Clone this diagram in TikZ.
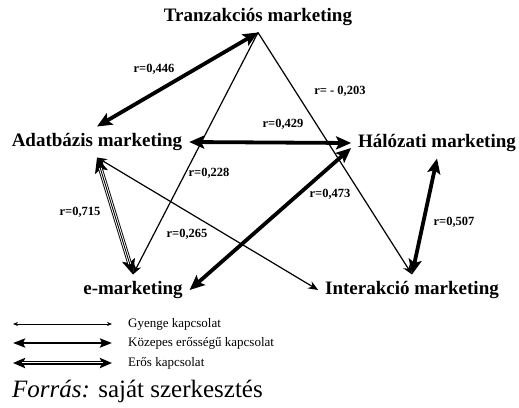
\documentclass[tikz,border=0pt]{standalone}
\usepackage{fontspec}
\setmainfont{Liberation Serif}
\usetikzlibrary{arrows.meta}
\begin{document}
\begin{tikzpicture}[x=1pt,y=-1pt,
    mkt/.style={font=\fontsize{19}{19}\selectfont\bfseries, inner sep=0pt, outer sep=7pt, text height=13pt, text depth=4pt},
    corr/.style={font=\fontsize{12.5}{12.5}\selectfont\bfseries, inner sep=0pt},
    legtext/.style={font=\fontsize{13}{13}\selectfont, inner sep=0pt, anchor=west},
    weak/.style={line width=1.2pt, -{Stealth[length=10pt,width=8pt]}},
    weakboth/.style={line width=1.2pt, {Stealth[length=10pt,width=8pt]}-{Stealth[length=10pt,width=8pt]}},
    medium/.style={line width=3.8pt, {Stealth[length=15pt,width=13pt,inset=3pt]}-{Stealth[length=15pt,width=13pt,inset=3pt]}},
    strong/.style={line width=4.6pt, {Stealth[length=15pt,width=13pt,inset=3pt]}-{Stealth[length=15pt,width=13pt,inset=3pt]},
        postaction={draw, -, white, line width=2.8pt, shorten <=11pt, shorten >=11pt},
        postaction={draw, -, black, line width=0.9pt, shorten <=11pt, shorten >=11pt}}]
            \useasboundingbox (0,0) rectangle (519,407);

            % marketing types
            \node[mkt] (tranz) at (258,17) {Tranzakciós marketing};
            \node[mkt] (adat) at (97,142) {Adatbázis marketing};
            \node[mkt] (hal) at (437,143) {Hálózati marketing};
            \node[mkt] (emark) at (133,290) {e-marketing};
            \node[mkt] (inter) at (412,290) {Interakció marketing};

            % connections
            \draw[weak] (tranz.south) -- (emark.north);
            \draw[weak] (tranz.south) -- (inter.north);
            \draw[weakboth] (adat.south) -- (inter.west);
            \draw[medium] (tranz.south) -- (adat.north);
            \draw[medium] (adat.east) -- (hal.west);
            \draw[medium] (emark.east) -- ([yshift=-5pt]hal.west);
            \draw[medium] (hal.south) -- (inter.north);
            \draw[strong] (adat.south) -- (emark.north);

            % correlations
            \node[corr] (r446) at (154,69) {r=0,446};
            \node[corr] (r203) at (340,91) {r= - 0,203};
            \node[corr] (r429) at (283,124) {r=0,429};
            \node[corr] (r228) at (209,173) {r=0,228};
            \node[corr] (r715) at (80,212) {r=0,715};
            \node[corr] (r265) at (187,234) {r=0,265};
            \node[corr] (r473) at (330,194) {r=0,473};
            \node[corr] (r507) at (454,222) {r=0,507};

            % legend
            \coordinate (gyA) at (13,324);
            \coordinate (gyB) at (112,324);
            \coordinate (kozA) at (13,343);
            \coordinate (kozB) at (112,343);
            \coordinate (erA) at (13,363);
            \coordinate (erB) at (112,363);
            \draw[line width=0.8pt, {Stealth[length=5pt,width=4pt]}-{Stealth[length=5pt,width=4pt]}] (gyA) -- (gyB);
            \draw[line width=2.6pt, {Stealth[length=12pt,width=9pt,inset=2pt]}-{Stealth[length=12pt,width=9pt,inset=2pt]}] (kozA) -- (kozB);
            \draw[line width=3.8pt, {Stealth[length=12pt,width=10pt,inset=2pt]}-{Stealth[length=12pt,width=10pt,inset=2pt]},
                postaction={draw, -, white, line width=2.2pt, shorten <=9pt, shorten >=9pt},
                postaction={draw, -, black, line width=0.7pt, shorten <=9pt, shorten >=9pt}] (erA) -- (erB);
            \node[legtext] (gyenge) at (128,324) {Gyenge kapcsolat};
            \node[legtext] (kozepes) at (128,343) {Közepes erősségű kapcsolat};
            \node[legtext] (eros) at (128,363) {Erős kapcsolat};

            \node[anchor=west, inner sep=0pt, font=\fontsize{25}{25}\selectfont] (forras) at (12,391) {\textit{Forrás:} saját szerkesztés};

        \end{tikzpicture}
\end{document}
